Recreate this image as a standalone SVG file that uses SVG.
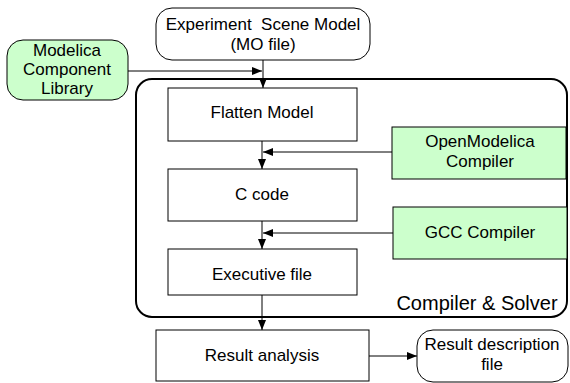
<svg xmlns="http://www.w3.org/2000/svg" width="570" height="383" viewBox="0 0 570 383">
<defs>
<marker id="ah" viewBox="0 0 10 8" refX="10" refY="4" markerWidth="10" markerHeight="8" markerUnits="userSpaceOnUse" orient="auto">
<path d="M0,0 L10,4 L0,8 Z" fill="#000"/>
</marker>
</defs>
<style>
text{font-family:"Liberation Sans",Arial,sans-serif;font-size:17px;fill:#000;text-anchor:middle}
.box{fill:#fff;stroke:#000;stroke-width:1}
.green{fill:#ccffcc;stroke:#000;stroke-width:1}
.cont{fill:none;stroke:#000;stroke-width:2}
.conn{fill:none;stroke:#000;stroke-width:1;marker-end:url(#ah)}
</style>
<rect width="570" height="383" fill="#fff"/>
<g id="container">
<rect class="cont" x="136" y="79" width="431" height="238" rx="16"/>
<text x="477" y="310" style="font-size:20px">Compiler &amp; Solver</text>
</g>
<g id="scene">
<rect class="box" x="156" y="8" width="214" height="52" rx="16"/>
<text x="263" y="30" xml:space="preserve">Experiment  Scene Model</text>
<text x="263" y="50">(MO file)</text>
</g>
<g id="library">
<rect class="green" x="7" y="40" width="121" height="60" rx="16"/>
<text x="67" y="56">Modelica</text>
<text x="67" y="75">Component</text>
<text x="67" y="94">Library</text>
</g>
<g id="flatten">
<rect class="box" x="168" y="88" width="189" height="53"/>
<text x="262" y="118">Flatten Model</text>
</g>
<g id="ccode">
<rect class="box" x="168" y="169" width="189" height="52"/>
<text x="262" y="200">C code</text>
</g>
<g id="exec">
<rect class="box" x="168" y="249" width="189" height="46"/>
<text x="262" y="280">Executive file</text>
</g>
<g id="omc">
<rect class="green" x="392" y="127" width="174" height="52"/>
<text x="480" y="147">OpenModelica</text>
<text x="480" y="167">Compiler</text>
</g>
<g id="gcc">
<rect class="green" x="393" y="207" width="174" height="52"/>
<text x="480" y="238">GCC Compiler</text>
</g>
<g id="result">
<rect class="box" x="156" y="330" width="213" height="51"/>
<text x="262" y="361">Result analysis</text>
</g>
<g id="resdesc">
<rect class="box" x="417" y="330" width="151" height="52" rx="16"/>
<text x="492" y="350">Result description</text>
<text x="492" y="370">file</text>
</g>
<g id="connectors">
<line class="conn" x1="263" y1="60" x2="263" y2="88"/>
<line class="conn" x1="128" y1="71" x2="262" y2="71"/>
<line class="conn" x1="262" y1="141" x2="262" y2="169"/>
<line class="conn" x1="392" y1="152" x2="263" y2="152"/>
<line class="conn" x1="262" y1="221" x2="262" y2="249"/>
<line class="conn" x1="393" y1="233" x2="263" y2="233"/>
<line class="conn" x1="262" y1="295" x2="262" y2="330"/>
<line class="conn" x1="369" y1="356" x2="417" y2="356"/>
</g>
</svg>
